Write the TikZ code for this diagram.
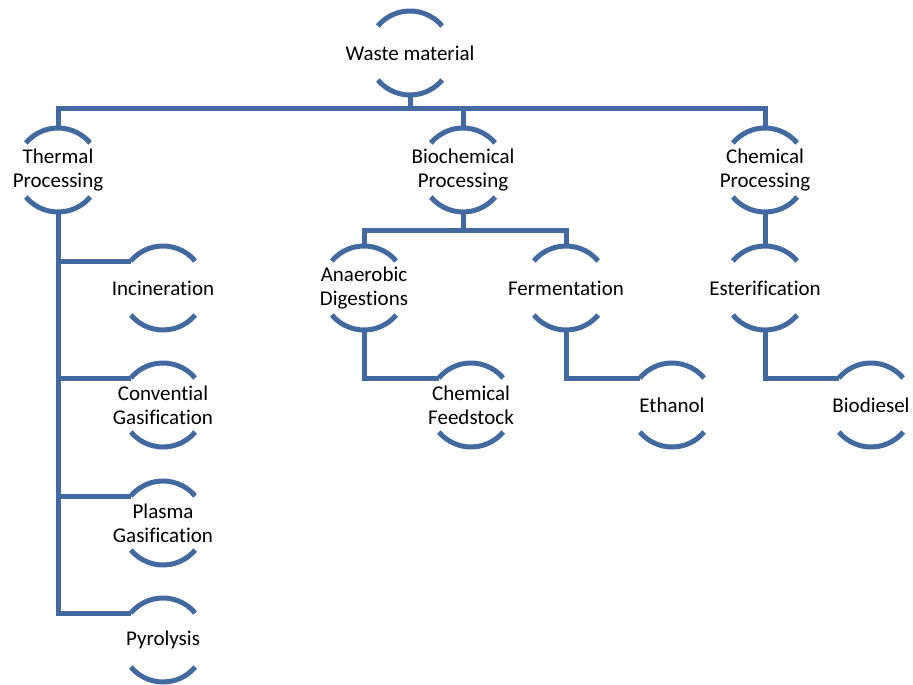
\documentclass[tikz,border=0pt]{standalone}
\usepackage{fontspec}
\setmainfont{Carlito}[Ligatures={NoCommon}]
\usetikzlibrary{calc}
\definecolor{lineblue}{RGB}{66,106,160}
\tikzset{
  conn/.style={draw=lineblue, line width=5pt},
  arcline/.style={draw=lineblue, line width=5pt},
  lbl/.style={align=center, inner sep=0pt, font=\fontsize{21}{24}\selectfont, text=black}
}
\newcommand\arcnode[4]{%
  \node[lbl] (#1) at (#2,-#3) {#4};
  \coordinate (#1-c) at (#2,-#3);
  \coordinate (#1-t) at ($(#1-c)+(0,42)$);
  \coordinate (#1-b) at ($(#1-c)+(0,-42)$);
  \coordinate (#1-w) at ($(#1-c)+(140:42)$);
  \draw[arcline] ($(#1-c)+(40:42)$) arc[start angle=40, end angle=140, radius=42];
  \draw[arcline] ($(#1-c)+(220:42)$) arc[start angle=220, end angle=320, radius=42];
}
\begin{document}
\begin{tikzpicture}[x=1pt, y=1pt]
\useasboundingbox (0,0) rectangle (913,-685);
\arcnode{waste}{410}{53}{Waste material}
\arcnode{thermal}{58}{170}{Thermal\\Processing}
\arcnode{bioproc}{463}{170}{Biochemical\\Processing}
\arcnode{chemproc}{765}{170}{Chemical\\Processing}
\arcnode{incin}{163}{288}{Incineration}
\arcnode{conv}{163}{405}{Convential\\Gasification}
\arcnode{plasma}{163}{523}{Plasma\\Gasification}
\arcnode{pyro}{163}{640}{Pyrolysis}
\arcnode{anaer}{364}{288}{Anaerobic\\Digestions}
\arcnode{ferm}{566}{288}{Fermentation}
\arcnode{feed}{471}{405}{Chemical\\Feedstock}
\arcnode{eth}{672}{405}{Ethanol}
\arcnode{ester}{765}{288}{Esterification}
\arcnode{biod}{871}{405}{Biodiesel}
\coordinate (bar) at (0,-108);
\coordinate (bar2) at (0,-230);
% top level
\draw[conn] (waste-b) -- (waste-b |- bar);
\draw[conn] (thermal-t) -- (thermal-t |- bar) -| (chemproc-t);
\draw[conn] (bioproc-t) -- (bioproc-t |- bar);
% thermal branch
\draw[conn] (thermal-b) |- (pyro-w);
\draw[conn] (thermal-b |- incin-w) -- (incin-w);
\draw[conn] (thermal-b |- conv-w) -- (conv-w);
\draw[conn] (thermal-b |- plasma-w) -- (plasma-w);
% biochemical branch
\draw[conn] (bioproc-b) -- (bioproc-b |- bar2);
\draw[conn] (anaer-t) -- (anaer-t |- bar2) -| (ferm-t);
\draw[conn] (anaer-b) |- (feed-w);
\draw[conn] (ferm-b) |- (eth-w);
% chemical branch
\draw[conn] (chemproc-b) -- (ester-t);
\draw[conn] (ester-b) |- (biod-w);
\end{tikzpicture}
\end{document}
